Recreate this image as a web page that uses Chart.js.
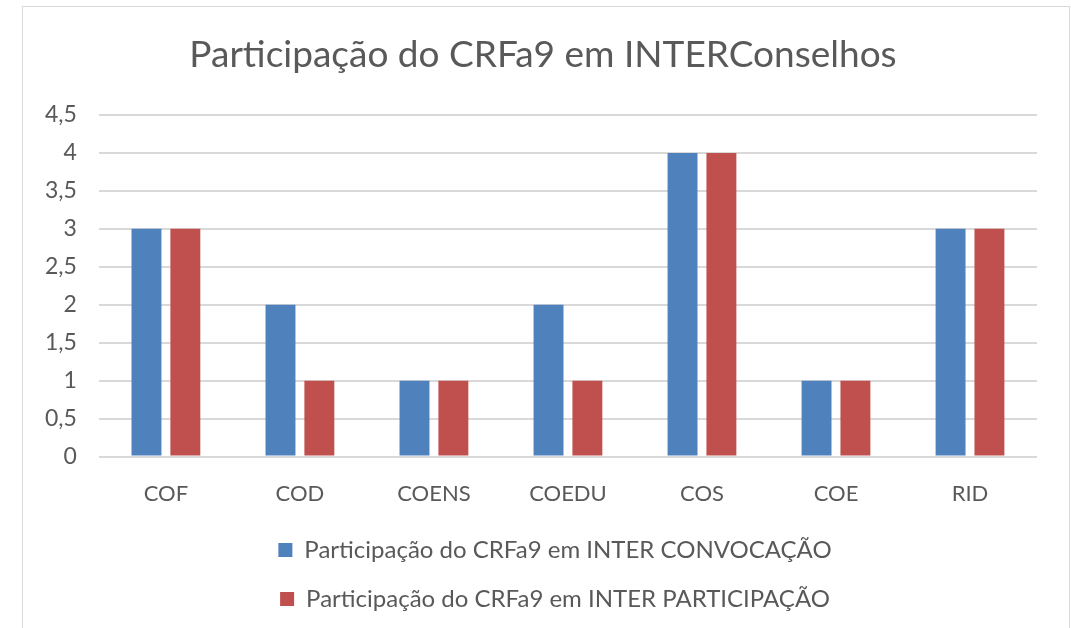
<!DOCTYPE html>
<html>
<head>
<meta charset="utf-8">
<script src="https://cdn.jsdelivr.net/npm/chart.js@4.4.0/dist/chart.umd.min.js"></script>
<style>
  html, body { margin: 0; padding: 0; background: #ffffff; overflow: hidden; }
  #box { position: absolute; left: 22px; top: 6px; width: 1048px; height: 660px;
         border: 1px solid #d9d9d9; box-sizing: border-box; background: #fff; }
  #wrap { position: absolute; left: 0; top: 0; width: 1046px; height: 632px; }
</style>
</head>
<body>
<div id="box"><div id="wrap"><canvas id="c"></canvas></div></div>
<script>
const chartTitle = "Participação do CRFa9 em INTERConselhos";
const categories = ["COF", "COD", "COENS", "COEDU", "COS", "COE", "RID"];
const seriesNames = ["Participação do CRFa9 em INTER CONVOCAÇÃO", "Participação do CRFa9 em INTER PARTICIPAÇÃO"];
const convocacao = [3, 2, 1, 2, 4, 1, 3];
const participacao = [3, 1, 1, 1, 4, 1, 3];
const yMin = 0, yMax = 4.5, yStep = 0.5;

const FONT = "Lato, 'Open Sans', sans-serif";
const TXT = "#595959";

const boxShift = {
  id: "boxShift",
  afterLayout(chart) {
    const lg = chart.legend;
    if (lg) { lg.left += 25; lg.right += 25; lg.top -= 18; lg.bottom -= 18; }
    const tb = chart.titleBlock;
    if (tb) { tb.left += 13; tb.right += 13; }
  }
};

new Chart(document.getElementById("c"), {
  type: "bar",
  data: {
    labels: categories,
    datasets: [
      { label: seriesNames[0], data: convocacao, backgroundColor: "#4f81bd", barPercentage: 0.77, categoryPercentage: 0.58 },
      { label: seriesNames[1], data: participacao, backgroundColor: "#c0504d", barPercentage: 0.77, categoryPercentage: 0.58 }
    ]
  },
  plugins: [boxShift],
  options: {
    responsive: true,
    maintainAspectRatio: false,
    animation: false,
    layout: { padding: { left: 0, right: 32, top: 0, bottom: 0 } },
    plugins: {
      title: { display: true, text: chartTitle, color: TXT,
               font: { family: FONT, size: 37, weight: "normal" },
               padding: { top: 26, bottom: 37.6 } },
      legend: { position: "bottom",
                labels: { color: TXT, font: { family: FONT, size: 24 }, boxWidth: 14, boxHeight: 14, padding: 25 } },
      tooltip: { enabled: false }
    },
    scales: {
      x: {
        grid: { display: false, drawTicks: false },
        border: { display: false },
        ticks: { color: TXT, font: { family: FONT, size: 22 }, padding: 24 }
      },
      y: {
        min: yMin, max: yMax,
        grid: { color: "#d9d9d9", lineWidth: 2, drawTicks: false },
        border: { display: false },
        ticks: { stepSize: yStep, color: TXT, font: { family: FONT, size: 23 }, padding: 22,
                 callback: v => String(v).replace(".", ",") }
      }
    }
  }
});
</script>
</body>
</html>
